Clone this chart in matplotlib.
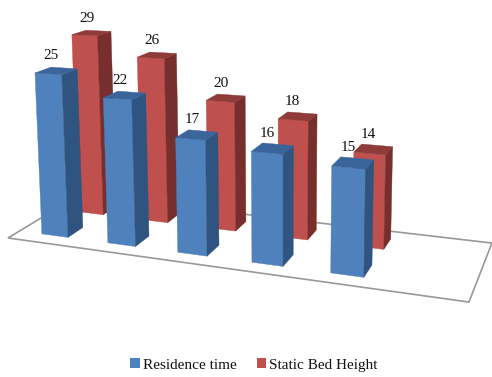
import numpy as np
import matplotlib
matplotlib.use('Agg')
import matplotlib.pyplot as plt
from matplotlib.patches import Patch, Polygon

residence_time = [25, 22, 17, 16, 15]
bed_height = [29, 26, 20, 18, 14]
series_names = ['Residence time', 'Static Bed Height']

# camera for the oblique view: maps (x, depth, value, 1) to canvas pixels
CAMERA = np.array([
    [381.7, 80.9, -0.318, 8.0],
    [13.0, -18.5, -6.578, 238.0],
    [-0.169, 0.1256, -0.00114, 1.0],
])

BLUE_LEFT = 0.058
RED_LEFT = 0.061
BAR_STEP = 0.1665
BAR_WIDTH = 0.067
BLUE_DEPTH = (0.15, 0.36)
RED_DEPTH = (0.65, 0.855)

BLUE = ('#4f81bd', '#2f5480', '#3a659b')
RED = ('#c0504d', '#772f2d', '#8e3b39')


def project(x, y, z):
    u, v, w = CAMERA @ np.array([x, y, z, 1.0])
    return u / w, v / w


def draw_bar(ax, x0, depth, value, colors):
    x1 = x0 + BAR_WIDTH
    y0, y1 = depth
    front = [project(x0, y0, 0), project(x1, y0, 0), project(x1, y0, value), project(x0, y0, value)]
    side = [project(x1, y0, 0), project(x1, y1, 0), project(x1, y1, value), project(x1, y0, value)]
    top = [project(x0, y0, value), project(x1, y0, value), project(x1, y1, value), project(x0, y1, value)]
    for face, color in zip((front, side, top), colors):
        ax.add_patch(Polygon(face, closed=True, facecolor=color, edgecolor=color, linewidth=0.3))
    # value label sits just above the bar top
    cu, cv = project(x0 + BAR_WIDTH / 2, (y0 + y1) / 2, value)
    ax.text(cu - 5, cv - 15, str(value), fontsize=11, color='#111111',
            ha='center', va='center', family='Liberation Serif')


fig = plt.figure(figsize=(4.92, 3.77), dpi=100)
ax = fig.add_axes([0, 0, 1, 1])
ax.set_xlim(0, 492)
ax.set_ylim(377, 0)
ax.axis('off')

floor = [project(0, 0, 0), project(1, 0, 0), project(1, 1, 0), project(0, 1, 0)]
ax.add_patch(Polygon(floor, closed=True, facecolor='white', edgecolor='#999999', linewidth=1.2))

for i, value in enumerate(bed_height):
    draw_bar(ax, RED_LEFT + i * BAR_STEP, RED_DEPTH, value, RED)
for i, value in enumerate(residence_time):
    draw_bar(ax, BLUE_LEFT + i * BAR_STEP, BLUE_DEPTH, value, BLUE)

handles = [Patch(facecolor=BLUE[0], label=series_names[0]),
           Patch(facecolor=RED[0], label=series_names[1])]
ax.legend(handles=handles, ncol=2, loc='center', bbox_to_anchor=(254 / 492, 1 - 365 / 377),
          frameon=False, prop={'family': 'Liberation Serif', 'size': 11},
          handlelength=0.62, handleheight=0.62, handletextpad=0.2, columnspacing=1.3,
          labelcolor='#111111')

fig.savefig('out.png', dpi=100)
